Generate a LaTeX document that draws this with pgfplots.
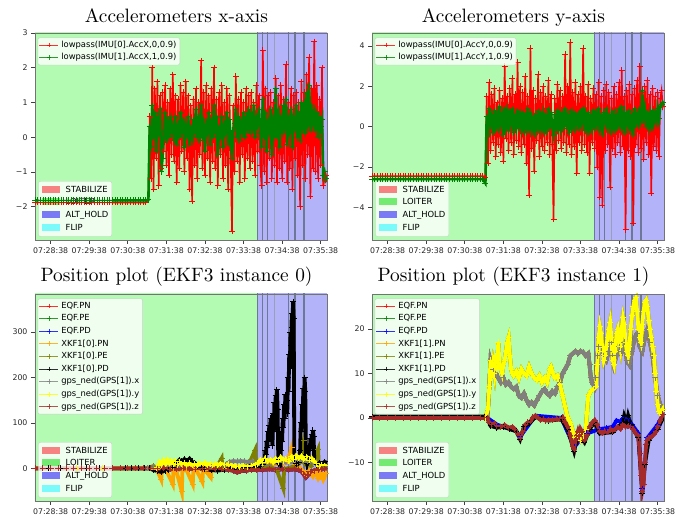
\documentclass[border=0pt]{standalone}
\usepackage{fontspec}
\setsansfont{DejaVu Sans}
\newfontfamily\titlefont{lmroman10-regular.otf}
\usepackage{pgfplots}
\pgfplotsset{compat=1.18}
\usepackage{pgfplotstable}

\definecolor{loit}{RGB}{179,250,179}
\definecolor{alth}{RGB}{179,179,250}
\definecolor{edgec}{RGB}{108,120,150}
\definecolor{mgreen}{RGB}{0,128,0}
\definecolor{morange}{RGB}{255,165,0}
\definecolor{molive}{RGB}{128,128,0}
\definecolor{mgray}{RGB}{128,128,128}
\definecolor{myellow}{RGB}{255,255,0}
\definecolor{mbrown}{RGB}{165,42,42}
\definecolor{sw1}{RGB}{247,130,130}
\definecolor{sw2}{RGB}{115,235,115}
\definecolor{sw3}{RGB}{122,122,245}
\definecolor{sw4}{RGB}{122,250,250}

\newcommand\tickfont{\sffamily\fontsize{7.8}{9}\selectfont}
\newcommand\legfont{\sffamily\fontsize{8.4}{12.7}\selectfont}
\newcommand\swatch[1]{\textcolor{#1}{\rule[-0.5pt]{18.3pt}{7pt}}\hspace{5.5pt}}

% ---------------- data ----------------
\pgfplotstableread[row sep=\\]{t r g\\
-24 -1.88 -1.82\\ -20 -1.88 -1.82\\ -16 -1.88 -1.82\\ -12 -1.88 -1.82\\ -8 -1.88 -1.82\\ -4 -1.88 -1.82\\
0 -1.88 -1.82\\ 4 -1.88 -1.82\\ 8 -1.88 -1.82\\ 12 -1.88 -1.82\\ 16 -1.88 -1.82\\ 20 -1.88 -1.82\\
24 -1.88 -1.82\\ 28 -1.88 -1.82\\ 32 -1.88 -1.82\\ 36 -1.88 -1.82\\ 40 -1.88 -1.82\\ 44 -1.88 -1.82\\
48 -1.88 -1.82\\ 52 -1.88 -1.82\\ 56 -1.88 -1.82\\ 60 -1.88 -1.82\\ 64 -1.88 -1.82\\ 68 -1.88 -1.82\\
72 -1.88 -1.82\\ 76 -1.88 -1.82\\ 80 -1.88 -1.82\\ 84 -1.88 -1.82\\ 88 -1.88 -1.82\\ 92 -1.88 -1.82\\
96 -1.88 -1.82\\ 100 -1.88 -1.82\\ 104 -1.88 -1.82\\ 108 -1.88 -1.82\\ 112 -1.88 -1.82\\ 116 -1.88 -1.82\\
120 -1.88 -1.82\\ 124 -1.88 -1.82\\ 128 -1.88 -1.82\\ 132 -1.88 -1.82\\ 136 -1.88 -1.82\\ 140 -1.88 -1.82\\
144 -1.88 -1.82\\ 148 -1.88 -1.82\\
152 -1.8 -1.8\\ 154 0.6 0.3\\ 156 -1.2 -0.3\\ 158 2.0 0.9\\ 160 -1.5 0.0\\ 162 1.4 0.7\\ 164 -0.6 -0.4\\ 166 1.6 0.6\\ 168 -1.4 0.1\\ 170 1.2 0.8\\
172 -0.9 -1.0\\ 174 1.3 -0.6\\ 176 -0.4 0.2\\ 178 1.5 0.7\\ 180 -0.8 -0.1\\ 182 1.0 0.5\\ 184 -1.1 0.0\\ 186 1.4 0.6\\ 188 -0.5 0.1\\ 190 1.8 0.4\\
192 -0.7 -0.1\\ 194 1.2 0.6\\ 196 -1.3 -0.2\\ 198 1.1 0.4\\ 200 -0.9 0.0\\ 202 1.5 0.7\\ 204 -0.4 0.1\\ 206 1.3 0.5\\ 208 -1.0 -0.3\\ 210 1.6 0.4\\
212 -0.6 0.0\\ 214 1.2 0.6\\ 216 -1.5 -0.2\\ 218 0.9 0.3\\ 220 -1.85 -0.1\\ 222 1.1 0.5\\ 224 -0.8 0.1\\ 226 1.4 0.8\\ 228 -1.2 0.0\\ 230 1.0 0.6\\
232 -0.5 -0.1\\ 234 2.2 0.9\\ 236 -0.9 0.0\\ 238 1.3 0.5\\ 240 -1.1 -0.4\\ 242 1.5 0.4\\ 244 -0.6 0.1\\ 246 1.2 0.7\\ 248 -1.3 -0.2\\ 250 1.4 0.5\\
252 -0.7 0.0\\ 254 2.0 0.9\\ 256 -0.9 0.1\\ 258 1.1 0.6\\ 260 -1.4 -0.5\\ 262 1.3 0.3\\ 264 -0.5 0.0\\ 266 1.5 0.6\\ 268 -1.2 -0.3\\ 270 1.0 0.4\\
272 -0.8 0.1\\ 274 1.4 0.7\\ 276 -1.5 -0.2\\ 278 1.2 0.5\\ 280 -0.6 0.0\\ 282 -2.7 -0.6\\ 284 0.9 0.2\\ 286 -1.0 0.4\\ 288 1.75 0.8\\ 290 -0.7 0.0\\
292 1.1 0.6\\ 294 -1.3 -0.1\\ 296 1.3 0.5\\ 298 -0.5 0.1\\ 300 1.0 0.7\\ 302 -1.2 0.0\\ 304 1.4 0.6\\ 306 -0.6 0.2\\ 308 1.2 0.8\\ 310 -0.9 0.1\\
312 1.3 0.7\\ 314 -0.7 0.2\\ 316 1.0 0.9\\ 318 -1.1 0.0\\ 320 1.5 0.6\\ 322 -0.4 0.3\\ 324 1.2 0.8\\ 326 -0.8 0.1\\ 328 -1.4 -0.3\\ 330 2.5 1.1\\
332 -1.0 0.0\\ 334 1.4 0.7\\ 336 -1.3 -0.4\\ 338 1.2 0.5\\ 340 -0.6 0.1\\ 342 1.3 0.8\\ 344 -1.2 -0.5\\ 346 1.0 0.4\\ 348 -0.8 0.2\\ 350 1.7 1.4\\
352 -1.3 0.0\\ 354 1.2 0.8\\ 356 -0.9 -0.3\\ 358 1.5 0.6\\ 360 -1.2 0.1\\ 362 1.1 0.9\\ 364 -0.7 0.2\\ 366 2.1 1.1\\ 368 -1.3 -0.2\\ 370 1.0 0.6\\
372 -0.9 0.1\\ 374 1.4 0.8\\ 376 -1.5 -0.3\\ 378 1.2 0.6\\ 380 -0.6 0.2\\ 382 1.3 0.9\\ 384 -1.1 0.0\\ 386 1.0 0.7\\ 388 -2.0 -0.1\\ 390 1.6 1.0\\
392 -0.8 0.2\\ 394 1.3 1.0\\ 396 -1.2 0.1\\ 398 1.8 1.3\\ 400 -0.5 0.3\\ 402 2.3 1.5\\ 404 -1.7 0.2\\ 406 1.4 0.9\\ 408 -0.9 0.3\\ 410 2.75 0.8\\
412 -1.0 0.2\\ 414 1.5 0.7\\ 416 -1.2 0.0\\ 418 1.1 0.6\\ 420 -0.8 0.3\\ 422 2.0 0.5\\ 424 -1.4 -1.1\\ 426 -1.2 -1.0\\ 428 -1.1 -1.2\\ 430 -1.3 -1.1\\
}\tabTL

\pgfplotstableread[row sep=\\]{t r g\\
-24 -2.45 -2.6\\ -20 -2.45 -2.6\\ -16 -2.45 -2.6\\ -12 -2.45 -2.6\\ -8 -2.45 -2.6\\ -4 -2.45 -2.6\\
0 -2.45 -2.6\\ 4 -2.45 -2.6\\ 8 -2.45 -2.6\\ 12 -2.45 -2.6\\ 16 -2.45 -2.6\\ 20 -2.45 -2.6\\
24 -2.45 -2.6\\ 28 -2.45 -2.6\\ 32 -2.45 -2.6\\ 36 -2.45 -2.6\\ 40 -2.45 -2.6\\ 44 -2.45 -2.6\\
48 -2.45 -2.6\\ 52 -2.45 -2.6\\ 56 -2.45 -2.6\\ 60 -2.45 -2.6\\ 64 -2.45 -2.6\\ 68 -2.45 -2.6\\
72 -2.45 -2.6\\ 76 -2.45 -2.6\\ 80 -2.45 -2.6\\ 84 -2.45 -2.6\\ 88 -2.45 -2.6\\ 92 -2.45 -2.6\\
96 -2.45 -2.6\\ 100 -2.45 -2.6\\ 104 -2.45 -2.6\\ 108 -2.45 -2.6\\ 112 -2.45 -2.6\\ 116 -2.45 -2.6\\
120 -2.45 -2.6\\ 124 -2.45 -2.6\\ 128 -2.45 -2.6\\ 132 -2.45 -2.6\\ 136 -2.45 -2.6\\ 140 -2.45 -2.6\\
144 -2.45 -2.6\\ 148 -2.45 -2.6\\
152 -2.5 -2.8\\ 154 1.5 0.5\\ 156 -1.8 -0.4\\ 158 2.2 0.9\\ 160 -1.2 0.0\\ 162 1.6 0.6\\ 164 -0.8 -0.3\\ 166 1.9 0.8\\ 168 -1.5 0.1\\ 170 1.2 0.5\\
172 -0.9 -0.2\\ 174 1.8 1.0\\ 176 -1.3 0.0\\ 178 1.4 0.7\\ 180 -1.7 -0.4\\ 182 3.0 0.9\\ 184 -0.6 0.1\\ 186 1.5 0.6\\ 188 -1.2 -0.2\\ 190 1.9 0.8\\
192 -0.8 0.0\\ 194 2.4 0.9\\ 196 -1.4 -0.3\\ 198 1.6 0.6\\ 200 -0.7 0.1\\ 202 3.2 0.8\\ 204 -1.0 -0.1\\ 206 2.0 0.5\\ 208 -1.3 0.0\\ 210 1.7 0.7\\
212 -0.9 -0.3\\ 214 2.5 0.6\\ 216 -1.8 0.1\\ 218 1.5 0.9\\ 220 -3.4 -0.2\\ 222 3.9 0.7\\ 224 -1.1 0.0\\ 226 1.8 0.5\\ 228 -2.2 -0.4\\ 230 1.4 0.6\\
232 -0.7 0.1\\ 234 2.6 0.8\\ 236 -1.5 -0.2\\ 238 1.7 0.7\\ 240 -1.0 0.0\\ 242 2.0 0.5\\ 244 -1.2 -0.3\\ 246 1.5 0.6\\ 248 -0.8 0.1\\ 250 2.3 0.9\\
252 -1.4 -0.1\\ 254 1.6 0.7\\ 256 -0.9 0.0\\ 258 -4.6 -0.4\\ 260 1.4 0.6\\ 262 -1.2 0.1\\ 264 2.1 0.8\\ 266 -0.7 -0.2\\ 268 1.8 0.5\\ 270 -1.1 0.0\\
272 1.5 0.7\\ 274 -0.8 -0.1\\ 276 3.6 0.9\\ 278 -1.3 0.0\\ 280 2.0 0.6\\ 282 -0.9 -0.3\\ 284 4.2 0.8\\ 286 -1.4 0.1\\ 288 1.7 0.5\\ 290 -1.0 -0.2\\
292 2.2 0.7\\ 294 -2.3 0.0\\ 296 1.6 0.6\\ 298 -0.8 -0.1\\ 300 2.0 0.8\\ 302 -1.2 0.1\\ 304 3.9 0.9\\ 306 -0.9 -0.2\\ 308 1.5 0.5\\ 310 -1.3 0.0\\
312 2.1 0.7\\ 314 -2.3 -0.3\\ 316 1.4 0.6\\ 318 -0.8 0.1\\ 320 1.9 0.8\\ 322 -1.1 -0.1\\ 324 1.6 0.5\\ 326 -2.0 0.0\\ 328 2.2 0.9\\ 330 -3.5 -0.2\\
332 1.5 0.6\\ 334 -3.9 -0.4\\ 336 1.8 0.7\\ 338 -1.2 0.1\\ 340 2.1 0.9\\ 342 -0.9 -0.1\\ 344 1.7 0.6\\ 346 -3.0 -0.3\\ 348 1.4 0.5\\ 350 -1.1 0.1\\
352 2.0 0.8\\ 354 -1.4 -0.2\\ 356 1.6 0.6\\ 358 -0.8 0.0\\ 360 2.2 0.9\\ 362 -1.3 -0.1\\ 364 2.8 1.0\\ 366 -1.0 0.1\\ 368 1.5 0.5\\ 370 -5.1 -0.3\\
372 1.8 0.7\\ 374 -1.2 0.0\\ 376 2.1 0.8\\ 378 -1.5 -0.2\\ 380 1.6 0.6\\ 382 -4.8 -0.4\\ 384 1.9 0.9\\ 386 -0.9 0.1\\ 388 2.3 0.7\\ 390 -1.3 0.0\\
392 3.0 0.9\\ 394 -1.1 0.2\\ 396 1.7 1.8\\ 398 -1.6 0.3\\ 400 2.0 0.8\\ 402 -0.8 0.0\\ 404 2.3 0.7\\ 406 -1.4 0.1\\ 408 1.6 0.6\\ 410 -3.3 -0.1\\
412 1.9 0.8\\ 414 -1.0 0.2\\ 416 1.5 0.6\\ 418 -1.2 0.3\\ 420 1.7 0.9\\ 422 -1.5 0.4\\ 424 1.4 1.0\\ 426 1.8 1.1\\ 428 1.0 1.2\\ 430 1.2 1.1\\
}\tabTR

% bottom-left (EKF3 instance 0)
\pgfplotstableread[row sep=\\]{t v\\
-24 0\\ -12 0\\ 0 0\\ 12 0\\ 24 0\\ 36 0\\ 48 0\\ 60 0\\ 72 0\\ 84 0\\ 96 0\\ 108 0\\ 120 0\\ 132 0\\ 144 0\\
156 0\\ 166 -1\\ 176 0\\ 186 -2\\ 196 -1\\ 206 0\\ 216 -1\\ 226 -2\\ 236 -1\\ 246 -2\\ 256 -1\\ 266 -2\\ 276 -3\\
284 -5\\ 290 -9\\ 296 -6\\ 304 -5\\ 312 -3\\ 320 -4\\ 330 -3\\ 340 -2\\ 350 -3\\ 360 -2\\ 370 -3\\ 380 -2\\
386 -4\\ 390 -6\\ 394 -14\\ 397 -20\\ 400 -15\\ 404 -8\\ 410 -5\\ 416 -3\\ 422 -2\\ 426 -1\\ 430 0\\
}\blz
\pgfplotstableread[row sep=\\]{t v\\
-24 0\\ 0 0\\ 40 0\\ 80 0\\ 120 0\\ 156 0\\ 165 1\\ 170 14\\ 173 8\\ 176 17\\ 179 10\\ 182 18\\ 185 11\\ 188 16\\
191 9\\ 194 15\\ 197 8\\ 200 14\\ 204 9\\ 208 12\\ 212 7\\ 216 11\\ 220 6\\ 224 10\\ 228 7\\ 232 11\\ 236 8\\
240 12\\ 244 7\\ 248 10\\ 252 6\\ 256 9\\ 260 7\\ 264 10\\ 270 8\\ 276 9\\ 282 6\\ 288 4\\ 294 3\\ 300 5\\
306 3\\ 312 6\\ 318 8\\ 322 10\\ 326 18\\ 330 12\\ 334 22\\ 338 15\\ 342 19\\ 346 13\\ 350 21\\ 354 14\\
358 24\\ 362 17\\ 366 20\\ 370 15\\ 374 26\\ 378 20\\ 382 28\\ 386 22\\ 390 27\\ 394 20\\ 398 25\\ 402 18\\
406 22\\ 410 15\\ 414 10\\ 418 5\\ 422 8\\ 426 6\\ 430 4\\
}\bly
\pgfplotstableread[row sep=\\]{t v\\
-24 0\\ 150 0\\ 160 2\\ 200 5\\ 250 6\\ 272 8\\ 278 14\\ 284 16\\ 290 15\\ 296 16\\ 302 15\\ 308 14\\
314 15\\ 318 8\\ 330 10\\ 360 12\\ 400 15\\ 430 5\\
}\blx
\pgfplotstableread[row sep=\\]{t v\\
-24 0\\ 150 0\\ 160 -2\\ 165 -3\\ 172 -25\\ 173 0\\ 180 -5\\ 190 -35\\ 191 0\\ 196 -8\\ 204 -52\\ 205 0\\
212 -6\\ 221 -35\\ 222 0\\ 227 -5\\ 236 -30\\ 237 0\\ 240 -4\\ 249 -20\\ 250 0\\ 270 0\\ 290 3\\ 320 5\\
340 10\\ 360 8\\ 368 15\\ 372 30\\ 375 45\\ 377 20\\ 380 8\\ 385 5\\ 392 -5\\ 398 -15\\ 402 -5\\ 408 -18\\
412 -8\\ 416 -22\\ 420 -10\\ 424 -25\\ 428 -12\\ 430 -18\\
}\bln
\pgfplotstableread[row sep=\\]{t v\\
-24 0\\ 150 0\\ 160 5\\ 165 0\\ 250 0\\ 258 2\\ 266 22\\ 267 3\\ 300 3\\ 308 8\\ 318 40\\ 319 5\\ 330 2\\
340 5\\ 352 -5\\ 362 -45\\ 363 -2\\ 380 5\\ 386 10\\ 394 62\\ 395 10\\ 405 5\\ 416 42\\ 417 5\\ 425 3\\ 430 5\\
}\ble
\pgfplotstableread[row sep=\\]{t v\\
-24 0\\ -4 0\\ 16 0\\ 36 0\\ 56 0\\ 76 0\\ 96 0\\ 116 0.5\\ 126 0\\ 136 0.5\\ 146 0\\ 154 0\\ 160 -4\\
166 -6\\ 172 -8\\ 178 -5\\ 184 -3\\ 190 2\\ 196 12\\ 200 18\\ 204 15\\ 208 20\\ 212 16\\ 216 21\\ 220 14\\
224 12\\ 228 6\\ 234 2\\ 240 -2\\ 250 -4\\ 260 -5\\ 270 -3\\ 280 0\\ 290 -2\\ 300 2\\ 310 2\\ 320 3\\ 326 5\\
330 8\\ 333 15\\ 334 40\\ 335 30\\ 336 60\\ 337 45\\ 338 80\\ 339 60\\ 340 95\\ 341 75\\ 342 110\\ 343 90\\
344 100\\ 345 50\\ 346 120\\ 347 80\\ 348 145\\ 349 100\\ 350 160\\ 351 120\\ 352 173\\ 353 130\\ 354 20\\
355 10\\ 357 8\\ 358 40\\ 359 80\\ 360 60\\ 361 110\\ 362 90\\ 363 140\\ 364 110\\ 365 162\\ 366 130\\
367 150\\ 368 120\\ 369 200\\ 370 170\\ 371 250\\ 372 220\\ 373 300\\ 374 270\\ 375 340\\ 376 310\\
377 367\\ 378 330\\ 379 20\\ 382 10\\ 386 12\\ 388 40\\ 389 100\\ 390 80\\ 391 140\\ 392 120\\ 393 175\\
394 150\\ 395 200\\ 396 170\\ 397 30\\ 399 10\\ 401 20\\ 402 50\\ 403 40\\ 404 65\\ 405 50\\ 406 75\\
407 60\\ 408 84\\ 409 70\\ 410 15\\ 414 8\\ 418 12\\ 422 10\\ 426 14\\ 430 12\\
}\bld

% bottom-right (EKF3 instance 1)
\pgfplotstableread[row sep=\\]{t v\\
-24 0\\ -12 0\\ 0 0\\ 12 0\\ 24 0\\ 36 0\\ 48 0\\ 60 0\\ 72 0\\ 84 0\\ 96 0\\ 108 0\\ 120 0\\ 132 0\\ 144 0\\
152 0\\ 156 2\\ 158 7\\ 160 13\\ 162 9\\ 164 12\\ 166 10\\ 168 14\\ 170 11\\ 172 17\\ 174 12\\ 176 11\\
178 10\\ 180 12\\ 182 13\\ 184 15\\ 186 17\\ 188 18\\ 190 14\\ 192 11\\ 194 10\\ 196 9.5\\ 200 10.5\\
204 9\\ 208 11\\ 212 10\\ 216 9.5\\ 220 11.5\\ 224 10\\ 228 9\\ 232 8.5\\ 236 9.5\\ 240 8\\ 244 9\\
248 8\\ 250 9.5\\ 252 11\\ 254 11.5\\ 256 10.5\\ 260 9\\ 264 9.5\\ 268 7.5\\ 272 5\\ 276 2.5\\ 280 0\\
284 -1\\ 288 -3\\ 292 -4.5\\ 296 -3.5\\ 300 -5\\ 304 -4\\ 308 -2.5\\ 310 1\\ 312 5\\ 316 6\\ 320 6.5\\
324 7\\ 326 12\\ 328 18\\ 330 20.5\\ 332 19\\ 334 15\\ 336 13\\ 338 14\\ 340 16\\ 342 18\\ 344 20\\
346 21.5\\ 348 18\\ 350 13\\ 352 12\\ 354 15\\ 356 19\\ 358 20\\ 360 18\\ 362 16\\ 364 20\\ 366 22.5\\
368 21\\ 370 17\\ 372 15\\ 374 14\\ 376 16\\ 378 20\\ 380 23\\ 382 25\\ 384 26.5\\ 386 27\\ 388 24\\
390 20\\ 392 18\\ 394 17\\ 396 21\\ 398 24\\ 400 26\\ 402 26.5\\ 404 25\\ 406 22\\ 408 20\\ 410 18\\
412 16\\ 414 14\\ 416 10\\ 418 6\\ 420 3\\ 422 1.5\\ 424 1\\ 426 1.5\\ 428 2\\ 430 1\\
}\bry
\pgfplotstableread[row sep=\\]{t v\\
-24 0\\ 150 0\\ 155 0\\ 158 7\\ 160 13\\ 164 11\\ 168 10\\ 172 9\\ 176 8\\ 180 9\\ 184 7.5\\ 188 8\\
192 7\\ 196 6.5\\ 200 7\\ 204 5\\ 208 4.5\\ 212 5.5\\ 216 4\\ 220 3\\ 224 3.5\\ 228 2.8\\ 232 4\\ 236 5\\
240 6\\ 244 6.5\\ 248 5.5\\ 252 5\\ 256 6\\ 260 5.5\\ 264 7\\ 268 8\\ 272 10\\ 276 11\\ 280 12\\ 284 14\\
288 14.5\\ 292 15\\ 296 14.5\\ 300 15\\ 304 14.8\\ 308 14\\ 312 14.5\\ 314 12\\ 316 9\\ 318 8\\ 320 7.5\\
322 7\\ 324 9\\ 326 14\\ 328 16\\ 332 15\\ 336 14\\ 340 13\\ 344 15\\ 348 17\\ 350 14\\ 352 12\\ 356 14\\
360 16\\ 364 15\\ 368 17\\ 372 13\\ 376 12\\ 380 15\\ 384 18\\ 388 19\\ 392 16\\ 396 15\\ 400 18\\ 404 20\\
408 17\\ 412 14\\ 416 9\\ 420 5\\ 424 3\\ 428 2\\ 430 2\\
}\brx
\pgfplotstableread[row sep=\\]{t v\\
-24 0\\ -12 0\\ 0 0\\ 12 0\\ 24 0\\ 36 0\\ 48 0\\ 60 0\\ 72 0\\ 84 0\\ 96 0\\ 108 0\\ 120 0\\ 132 0\\ 144 0\\
150 0\\ 155 0\\ 158 -1\\ 162 -1.5\\ 166 -1.2\\ 170 -1.8\\ 176 -2\\ 182 -1.6\\ 188 -2.2\\ 194 -2\\ 198 -2.5\\
202 -3.5\\ 206 -4.5\\ 210 -3\\ 214 -1.5\\ 218 -1\\ 222 -0.8\\ 226 0.2\\ 230 0.5\\ 234 0\\ 238 -0.5\\
242 -0.3\\ 246 -0.6\\ 250 -0.4\\ 256 -0.5\\ 262 -0.3\\ 268 -0.2\\ 272 0.2\\ 276 -1\\ 280 -2\\ 284 -4\\
288 -6.5\\ 290 -7\\ 292 -5\\ 294 -4\\ 296 -3\\ 298 -4\\ 300 -2.5\\ 302 -3\\ 306 -5\\ 310 -4\\ 314 -2\\
318 -1\\ 322 -0.5\\ 326 -1.5\\ 330 -3\\ 334 -3.5\\ 338 -3\\ 342 -3.2\\ 346 -2.5\\ 350 -3\\ 354 -2.5\\
358 -2\\ 362 -2.5\\ 366 -1.5\\ 370 -2\\ 374 -1.8\\ 378 -2\\ 382 -2.5\\ 386 -3.5\\ 390 -4\\ 392 -8\\
394 -13\\ 396 -16.5\\ 398 -15\\ 400 -10\\ 402 -6\\ 404 -5\\ 406 -4.5\\ 410 -4.2\\ 414 -3.8\\ 418 -3\\
420 -2\\ 424 -0.5\\ 428 0.8\\ 430 1\\
}\brz
\pgfplotstableread[row sep=\\]{t v\\
-24 0.3\\ 150 0.3\\ 155 0\\ 160 -1.8\\ 170 -2.2\\ 180 -2\\ 190 -2.5\\ 200 -3\\ 206 -4.8\\ 212 -2\\
220 -1.2\\ 230 0.2\\ 250 -0.6\\ 270 -0.3\\ 280 -2.5\\ 290 -7.5\\ 296 -3.5\\ 306 -5.5\\ 314 -2.5\\
322 -1\\ 330 -3.5\\ 350 -3.2\\ 366 -1\\ 368 0.5\\ 372 -1\\ 374 0.5\\ 378 -1.5\\ 390 -4.5\\ 396 -17\\
400 -10.5\\ 406 -5\\ 420 -2.5\\ 430 0.5\\
}\brd
\pgfplotstableread[row sep=\\]{t v\\
-24 0\\ 155 0\\ 170 -1.5\\ 200 -3\\ 206 -4.2\\ 230 0.5\\ 270 0\\ 290 -6.5\\ 310 -3.5\\ 330 -2.5\\
340 -2.3\\ 350 -2\\ 356 -0.6\\ 362 -0.8\\ 368 0\\ 374 -0.2\\ 380 -1.5\\ 390 -3.5\\ 396 -16\\ 404 -4.5\\
420 -1.5\\ 430 1.2\\
}\brb

% mode spans: #1 = low, #2 = high
\newcommand\spans[2]{%
  \addplot[draw=none, fill=loit, forget plot] coordinates {(-100,#1) (322,#1) (322,#2) (-100,#2)} -- cycle;
  \addplot[draw=none, fill=alth, forget plot] coordinates {(322,#1) (500,#1) (500,#2) (322,#2)} -- cycle;
  \addplot[edgec, line width=1.1pt, forget plot] coordinates {(322,#1) (322,#2)};
  \addplot[edgec, line width=1.1pt, forget plot] coordinates {(329,#1) (329,#2)};
  \addplot[edgec, line width=1.1pt, forget plot] coordinates {(337,#1) (337,#2)};
  \addplot[edgec!70!white, line width=1.8pt, forget plot] coordinates {(348,#1) (348,#2)};
  \addplot[edgec, line width=1.1pt, forget plot] coordinates {(370,#1) (370,#2)};
  \addplot[edgec, line width=1.1pt, forget plot] coordinates {(380,#1) (380,#2)};
  \addplot[edgec, line width=1.1pt, forget plot] coordinates {(394,#1) (394,#2)};
}
\newcommand\modelegend{%
  \node[anchor=south west, xshift=3.3pt, yshift=3.3pt, fill=white, fill opacity=0.8,
        text opacity=1, draw=black!22, draw opacity=0.8, rounded corners=2pt,
        inner xsep=3.4pt, inner ysep=4.3pt, align=left, font=\legfont, text depth=2pt]
    at (rel axis cs:0,0)
    {\swatch{sw1}STABILIZE\\ \swatch{sw2}LOITER\\ \swatch{sw3}ALT\_HOLD\\ \swatch{sw4}FLIP};
}

\pgfplotsset{
  panel/.style={
    scale only axis, width=292pt, height=207pt,
    xmin=-24.4, xmax=429.8, enlargelimits=false,
    xtick={0,60,120,180,240,300,360,420},
    xticklabels={07:28:38,07:29:38,07:30:38,07:31:38,07:32:38,07:33:38,07:34:38,07:35:38},
    tick align=outside, xtick pos=left, ytick pos=left,
    major tick length=4pt,
    tick style={black!75, line width=0.7pt},
    axis line style={black!55, line width=0.8pt},
    ticklabel style={font=\tickfont, text=black!85},
    axis on top,
    title style={at={(0.5,1)}, anchor=base, yshift=4pt, xshift=-4.5pt,
                 font=\titlefont\fontsize{19.35}{22}\selectfont},
    legend cell align=left,
    legend style={at={(0,1)}, anchor=north west, xshift=2.7pt, yshift=-4.6pt,
      fill=white, fill opacity=0.8, draw opacity=0.8, text opacity=1, draw=black!22,
      rounded corners=2pt, font=\legfont, inner xsep=1pt, inner ysep=1pt, row sep=0pt,
      nodes={inner sep=2.3pt, text height=6.2pt, text depth=1.8pt}},
    legend image code/.code={\draw[mark repeat=2,mark phase=2,##1,line width=1.1pt,
        mark options={line width=0.8pt}, mark size=2.4pt]
        plot coordinates {(0pt,0pt) (9.5pt,0pt) (19pt,0pt)};},
  },
  accser/.style={mark=+, mark size=3pt, mark options={solid, line width=0.9pt}},
  posser/.style={line width=3.8pt, mark=+, mark size=3pt, mark options={solid, line width=1pt}},
}

\begin{document}
\begin{tikzpicture}
\path[use as bounding box] (0,0) rectangle (694pt,518pt);

% ---------- top left ----------
\begin{axis}[panel, at={(35pt,278pt)}, anchor=south west,
  ymin=-2.96, ymax=3, ytick={-2,-1,0,1,2,3}, yticklabels={−2,−1,0,1,2,3},
  title={Accelerometers x-axis}]
  \spans{-3}{3.1}
  \addplot[red, line width=1.6pt, accser] table[x=t,y=r]{\tabTL};
  \addlegendentry{lowpass(IMU[0].AccX,0,0.9)}
  \addplot[mgreen, line width=2.6pt, accser] table[x=t,y=g]{\tabTL};
  \addlegendentry{lowpass(IMU[1].AccX,1,0.9)}
  \modelegend
\end{axis}

% ---------- top right ----------
\begin{axis}[panel, at={(372pt,278pt)}, anchor=south west,
  ymin=-5.62, ymax=4.65, ytick={-4,-2,0,2,4}, yticklabels={−4,−2,0,2,4},
  title={Accelerometers y-axis}]
  \spans{-5.7}{4.7}
  \addplot[red, line width=1.6pt, accser] table[x=t,y=r]{\tabTR};
  \addlegendentry{lowpass(IMU[0].AccY,0,0.9)}
  \addplot[mgreen, line width=2.6pt, accser] table[x=t,y=g]{\tabTR};
  \addlegendentry{lowpass(IMU[1].AccY,1,0.9)}
  \modelegend
\end{axis}

% ---------- bottom left ----------
\begin{axis}[panel, at={(35pt,17pt)}, anchor=south west,
  ymin=-72, ymax=384, ytick={0,100,200,300}, yticklabels={0,100,200,300},
  title={Position plot (EKF3 instance 0)}, title style={yshift=2.3pt}]
  \spans{-80}{400}
  \addplot[red, posser] table[x=t,y=v]{\blz}; \addlegendentry{EQF.PN}
  \addplot[mgreen, posser] table[x=t,y=v]{\blz}; \addlegendentry{EQF.PE}
  \addplot[blue, posser] table[x=t,y=v]{\blz}; \addlegendentry{EQF.PD}
  \addplot[morange, posser] table[x=t,y=v]{\bln}; \addlegendentry{XKF1[0].PN}
  \addplot[molive, posser] table[x=t,y=v]{\ble}; \addlegendentry{XKF1[0].PE}
  \addplot[black, posser] table[x=t,y=v]{\bld}; \addlegendentry{XKF1[0].PD}
  \addplot[mgray, posser] table[x=t,y=v]{\blx}; \addlegendentry{gps\_ned(GPS[1]).x}
  \addplot[myellow, posser] table[x=t,y=v]{\bly}; \addlegendentry{gps\_ned(GPS[1]).y}
  \addplot[mbrown, posser] table[x=t,y=v]{\blz}; \addlegendentry{gps\_ned(GPS[1]).z}
  \modelegend
\end{axis}

% ---------- bottom right ----------
\begin{axis}[panel, at={(372pt,17pt)}, anchor=south west,
  ymin=-18.7, ymax=27.9, ytick={-10,0,10,20}, yticklabels={−10,0,10,20},
  title={Position plot (EKF3 instance 1)}, title style={yshift=2.3pt}]
  \spans{-19}{28}
  \addplot[red, posser] table[x=t,y=v]{\brx}; \addlegendentry{EQF.PN}
  \addplot[mgreen, posser] table[x=t,y=v]{\bry}; \addlegendentry{EQF.PE}
  \addplot[blue, posser] table[x=t,y=v]{\brb}; \addlegendentry{EQF.PD}
  \addplot[morange, posser] table[x=t,y=v]{\bry}; \addlegendentry{XKF1[1].PN}
  \addplot[molive, posser] table[x=t,y=v]{\brx}; \addlegendentry{XKF1[1].PE}
  \addplot[black, posser] table[x=t,y=v]{\brd}; \addlegendentry{XKF1[1].PD}
  \addplot[mgray, posser] table[x=t,y=v]{\brx}; \addlegendentry{gps\_ned(GPS[1]).x}
  \addplot[myellow, posser] table[x=t,y=v]{\bry}; \addlegendentry{gps\_ned(GPS[1]).y}
  \addplot[mbrown, posser] table[x=t,y=v]{\brz}; \addlegendentry{gps\_ned(GPS[1]).z}
  \modelegend
\end{axis}
\end{tikzpicture}
\end{document}
